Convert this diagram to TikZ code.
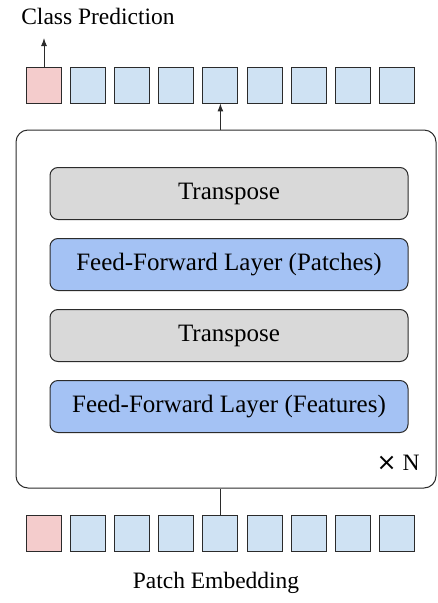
\documentclass[tikz,border=0pt]{standalone}
\usepackage{fontspec}
\setmainfont{Liberation Serif}
\newfontfamily\symfont{DejaVu Sans}
\usepackage{tikz}
\usetikzlibrary{positioning, arrows, arrows.meta, shapes}

\definecolor{tokred}{HTML}{F4CCCC}
\definecolor{tokblue}{HTML}{CFE2F3}
\definecolor{laygray}{HTML}{D9D9D9}
\definecolor{layblue}{HTML}{A4C2F4}
\definecolor{edgec}{HTML}{2B2B2B}

\tikzset{
	token/.style={draw=edgec, line width=0.9pt, minimum width=35pt, minimum height=36pt, inner sep=0pt},
	cls/.style={token, fill=tokred},
	patch/.style={token, fill=tokblue},
	layer/.style={draw=edgec, line width=1pt, rounded corners=8pt, minimum width=358pt, minimum height=52pt, font=\fontsize{25}{29}\selectfont},
	lbl/.style={font=\fontsize{23.5}{27}\selectfont},
	tip/.style={-{Latex[length=8pt,width=6pt]}, line width=1pt, edgec}
}

\begin{document}
\begin{tikzpicture}[x=1pt, y=-1pt, node distance=8.2pt]
\useasboundingbox (0,0) rectangle (438,603);
% output tokens
\node[cls](t1) at (44,85) {};
\node[patch, right=of t1] (t2) {};
\node[patch, right=of t2] (t3) {};
\node[patch, right=of t3] (t4) {};
\node[patch, right=of t4] (t5) {};
\node[patch, right=of t5] (t6) {};
\node[patch, right=of t6] (t7) {};
\node[patch, right=of t7] (t8) {};
\node[patch, right=of t8] (t9) {};
% input tokens
\node[cls](b1) at (44,533) {};
\node[patch, right=of b1] (b2) {};
\node[patch, right=of b2] (b3) {};
\node[patch, right=of b3] (b4) {};
\node[patch, right=of b4] (b5) {};
\node[patch, right=of b5] (b6) {};
\node[patch, right=of b6] (b7) {};
\node[patch, right=of b7] (b8) {};
\node[patch, right=of b8] (b9) {};
% mixer block
\node[draw=edgec, line width=1pt, rounded corners=12pt, minimum width=420pt, minimum height=358pt](block) at (226,309) {};
\node[layer, fill=laygray](tr1) at (229,193.5) {Transpose};
\node[layer, fill=layblue](ffp) at (229,264.5) {Feed-Forward Layer (Patches)};
\node[layer, fill=laygray](tr2) at (229,335.5) {Transpose};
\node[layer, fill=layblue](fff) at (229,406.5) {Feed-Forward Layer (Features)};
\node[lbl](rep) at (398,463) {{\symfont\fontsize{24}{27}\selectfont ×} N};
% labels
\node[lbl](cp) at (98,16) {Class Prediction};
\node[lbl](pe) at (216,583) {Patch Embedding};
\coordinate (out) at (44,38);
\draw[tip] (t1.north) -- (out);
\draw[tip] (block.north -| t5.south) -- (t5.south);
\draw[line width=1pt, edgec] (b5.north) -- (block.south -| b5.north);

\end{tikzpicture}
\end{document}
